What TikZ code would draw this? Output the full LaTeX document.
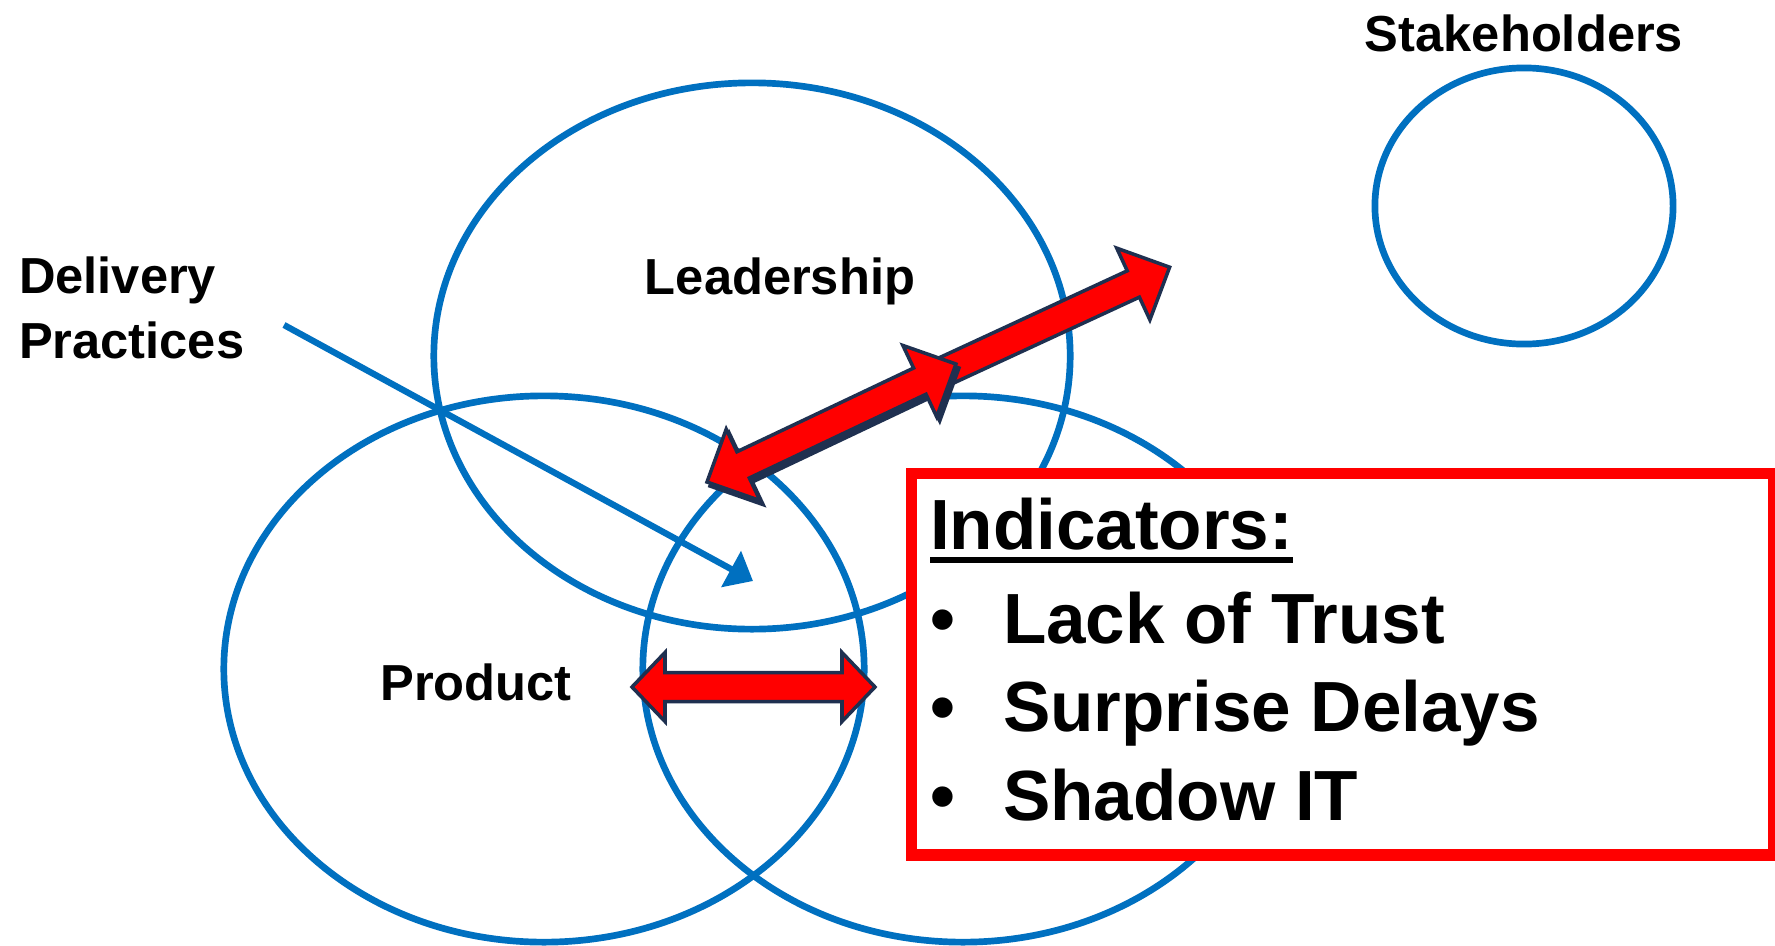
\documentclass[tikz,border=0pt]{standalone}
\usepackage{fontspec}
\setmainfont{Liberation Sans}
\usetikzlibrary{arrows.meta,shapes.geometric}
\definecolor{blu}{HTML}{0070C0}
\definecolor{navy}{HTML}{1F3050}
\definecolor{rd}{HTML}{FF0000}
\begin{document}
\begin{tikzpicture}[x=0.01cm,y=-0.01cm,
  ell/.style={ellipse, draw=blu, line width=1.9pt, inner sep=0pt, outer sep=0pt},
  lbl/.style={font=\fontsize{14.4pt}{17pt}\selectfont\bfseries, inner sep=0pt, outer sep=0pt},
  big/.style={font=\fontsize{20.2pt}{24pt}\selectfont\bfseries, inner sep=0pt, outer sep=0pt},
  blk/.style={draw=navy, fill=rd, line width=1pt, line join=miter},
  shd/.style={fill=navy, draw=navy, line width=1pt},
  boxnode/.style={draw=rd, fill=white, line width=3.4pt, inner sep=0pt, outer sep=0pt, rectangle},
  ptr/.style={draw=blu, line width=1.8pt, -{Triangle[length=0.25cm,width=0.40cm]}}
]
\useasboundingbox (0,0) rectangle (1775,945);
\fill[white] (0,0) rectangle (1775,945);

% ellipses
\node[ell, minimum width=6.36cm, minimum height=5.46cm] (lead) at (752,356) {};
\node[ell, minimum width=6.40cm, minimum height=5.46cm] (prod) at (544,669) {};
\node[ell, minimum width=6.40cm, minimum height=5.46cm] (third) at (963,669) {};
\node[ell, minimum width=2.98cm, minimum height=2.76cm] (stkc) at (1524,206) {};

% labels
\node[lbl, anchor=base] (stk) at (1524,51) {Stakeholders};
\node[lbl, anchor=base] (ldr) at (780,294) {Leadership};
\node[lbl, anchor=base west] (del) at (19,293) {Delivery};
\node[lbl, anchor=base west] (pra) at (19,358) {Practices};
\node[lbl, anchor=base] (prd) at (476,700) {Product};

% blue pointer
\coordinate (ps) at (284,325);
\coordinate (pe) at (753,581);
\draw[ptr] (ps) -- (pe);

% horizontal double block arrow
\coordinate (hl) at (632,687);
\coordinate (hr) at (875,687);
\begin{scope}[shift={(hl)}]
  \draw[blk] (0,0) -- (33,-34.5) -- (33,-14.5) -- (210,-14.5) -- (210,-34.5) -- (243,0)
    -- (210,34.5) -- (210,14.5) -- (33,14.5) -- (33,34.5) -- cycle;
\end{scope}

% single block arrow B (towards stakeholders)
\coordinate (bs) at (930,378);
\coordinate (br) at (1170,267);
\begin{scope}[shift={(bs)}, rotate=24.82]
  \draw[blk] (0,-14.5) -- (224,-14.5) -- (224,-39.5) -- (264,0) -- (224,39.5) -- (224,14.5)
    -- (0,14.5) -- cycle;
\end{scope}

% double block arrow A
\coordinate (al) at (707,482);
\coordinate (am) at (956,364);
\begin{scope}[shift={(710,486)}, rotate=25.36]
  \fill[shd] (0,0) -- (40,-39.5) -- (40,-14.5) -- (235.5,-14.5) -- (235.5,-39.5) -- (275.5,0)
    -- (235.5,39.5) -- (235.5,14.5) -- (40,14.5) -- (40,39.5) -- cycle;
\end{scope}
\begin{scope}[shift={(al)}, rotate=25.36]
  \draw[blk] (0,0) -- (40,-39.5) -- (40,-14.5) -- (235.5,-14.5) -- (235.5,-39.5) -- (275.5,0)
    -- (235.5,39.5) -- (235.5,14.5) -- (40,14.5) -- (40,39.5) -- cycle;
\end{scope}

% indicators box
\node[boxnode, anchor=north west, minimum width=8.615cm, minimum height=3.81cm] (box) at (911.5,473.5) {};
\node[big, anchor=base west] (ind) at (930,549) {Indicators:};
\draw[line width=1.45pt] ([yshift=-0.11cm]ind.base west) -- ([yshift=-0.11cm]ind.base east);
\node[big, anchor=base] (b1) at (943,643) {•};
\node[big, anchor=base] (b2) at (943,731) {•};
\node[big, anchor=base] (b3) at (943,820) {•};
\node[big, anchor=base west] (i1) at (1003,643) {Lack of Trust};
\node[big, anchor=base west] (i2) at (1003,731) {Surprise Delays};
\node[big, anchor=base west] (i3) at (1003,820) {Shadow IT};
\end{tikzpicture}
\end{document}
